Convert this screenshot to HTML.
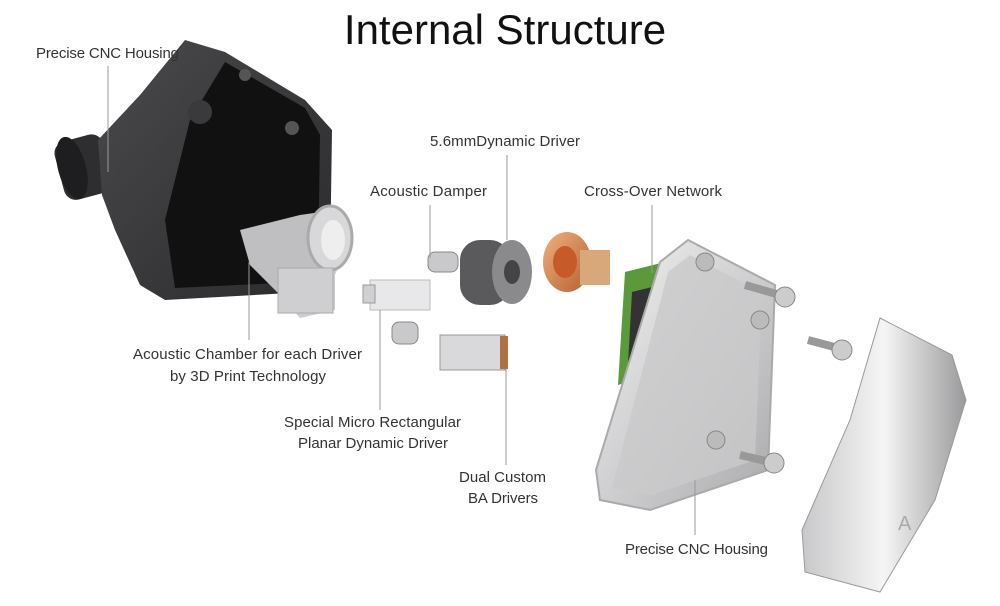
<!DOCTYPE html>
<html><head><meta charset="utf-8"><style>
html,body{margin:0;padding:0;background:#fff;}
svg{display:block;}
text{font-family:"Liberation Sans",sans-serif;fill:#333;}
</style></head><body>
<svg width="1000" height="606" viewBox="0 0 1000 606" xmlns="http://www.w3.org/2000/svg">
<defs>
<linearGradient id="dk" x1="0" y1="0" x2="1" y2="1"><stop offset="0" stop-color="#4a4a4c"/><stop offset="1" stop-color="#2a2a2c"/></linearGradient>
<linearGradient id="mt" x1="0" y1="0" x2="1" y2="1"><stop offset="0" stop-color="#f2f2f2"/><stop offset="0.5" stop-color="#cfcfd1"/><stop offset="1" stop-color="#a9a9ab"/></linearGradient>
<linearGradient id="sh" x1="0" y1="0" x2="1" y2="0"><stop offset="0" stop-color="#c8c8ca"/><stop offset="0.5" stop-color="#f5f5f5"/><stop offset="1" stop-color="#9a9a9c"/></linearGradient>
<linearGradient id="cu" x1="0" y1="0" x2="1" y2="1"><stop offset="0" stop-color="#f0b080"/><stop offset="1" stop-color="#b5602e"/></linearGradient>
</defs>
<text x="505" y="44" font-size="42" text-anchor="middle" style="fill:#111">Internal Structure</text>

<!-- dark housing -->
<rect x="58" y="138" width="50" height="60" rx="12" fill="#2e2e30" transform="rotate(-15 80 165)"/>
<ellipse cx="72" cy="168" rx="14" ry="32" fill="#1e1e20" transform="rotate(-15 72 168)"/>
<path d="M185,40 L225,52 L305,100 L332,130 L330,265 L308,292 L165,300 L140,285 L115,230 L102,195 L98,140 L140,95 Z" fill="url(#dk)"/>
<path d="M225,62 L305,108 L320,135 L318,262 L300,282 L175,288 L165,220 L190,120 Z" fill="#111"/>
<circle cx="200" cy="112" r="12" fill="#3a3a3c"/>
<circle cx="292" cy="128" r="7" fill="#555"/>
<circle cx="245" cy="75" r="6" fill="#555"/>
<!-- acoustic chamber -->
<path d="M240,230 L300,215 L335,210 L345,250 L335,275 L335,310 L300,318 L280,295 L250,265 Z" fill="#c9c9cb" opacity="0.95"/>
<ellipse cx="330" cy="238" rx="22" ry="32" fill="#d8d8da" stroke="#aaa" stroke-width="3"/>
<ellipse cx="333" cy="240" rx="12" ry="20" fill="#eee"/>
<rect x="278" y="268" width="55" height="45" fill="#cfcfd1" stroke="#aaa"/>

<!-- small parts -->
<rect x="370" y="280" width="60" height="30" fill="#e8e8ea" stroke="#bbb"/>
<rect x="363" y="285" width="12" height="18" fill="#d0d0d2" stroke="#999"/>
<rect x="428" y="252" width="30" height="20" rx="7" fill="#c9c9cb" stroke="#888"/>
<rect x="392" y="322" width="26" height="22" rx="7" fill="#c9c9cb" stroke="#888"/>
<rect x="440" y="335" width="65" height="35" fill="#d9d9db" stroke="#999"/>
<rect x="500" y="336" width="8" height="33" fill="#b07040"/>
<!-- dynamic driver -->
<rect x="460" y="240" width="50" height="65" rx="20" fill="#5a5a5c"/>
<ellipse cx="512" cy="272" rx="20" ry="32" fill="#8a8a8c"/>
<ellipse cx="512" cy="272" rx="8" ry="12" fill="#444"/>
<!-- copper -->
<ellipse cx="567" cy="262" rx="24" ry="30" fill="url(#cu)"/>
<ellipse cx="565" cy="262" rx="12" ry="16" fill="#c65a28"/>
<rect x="580" y="250" width="30" height="35" fill="#d9a87a"/>
<!-- PCB -->
<path d="M625,272 L665,262 L660,372 L618,385 Z" fill="#5b9a3a"/>
<path d="M632,292 L652,287 L650,358 L628,364 Z" fill="#333"/>

<!-- metal plate -->
<path d="M688,240 L775,285 L768,470 L650,510 L600,500 L596,470 L660,262 Z" fill="url(#mt)" stroke="#aaa" stroke-width="2"/>
<path d="M690,255 L762,293 L755,460 L652,495 L612,488 L668,272 Z" fill="#c9c9cb" opacity="0.8"/>
<circle cx="705" cy="262" r="9" fill="#bbb" stroke="#888"/>
<circle cx="760" cy="320" r="9" fill="#bbb" stroke="#888"/>
<circle cx="716" cy="440" r="9" fill="#bbb" stroke="#888"/>
<!-- screws -->
<path d="M745,285 L780,295" stroke="#999" stroke-width="8"/><circle cx="785" cy="297" r="10" fill="#ccc" stroke="#888"/>
<path d="M808,340 L838,348" stroke="#999" stroke-width="8"/><circle cx="842" cy="350" r="10" fill="#ccc" stroke="#888"/>
<path d="M740,455 L770,462" stroke="#999" stroke-width="8"/><circle cx="774" cy="463" r="10" fill="#ccc" stroke="#888"/>
<!-- shell -->
<path d="M880,318 L952,355 L966,400 L935,500 L880,592 L805,572 L802,530 L850,420 Z" fill="url(#sh)" stroke="#999"/>
<text x="898" y="530" font-size="20" style="fill:#aaa">A</text>

<!-- leader lines -->
<g stroke="#999" stroke-width="1">
<line x1="108" y1="66" x2="108" y2="172"/>
<line x1="249" y1="262" x2="249" y2="340"/>
<line x1="380" y1="310" x2="380" y2="410"/>
<line x1="506" y1="368" x2="506" y2="465"/>
<line x1="507" y1="155" x2="507" y2="240"/>
<line x1="430" y1="205" x2="430" y2="258"/>
<line x1="652" y1="205" x2="652" y2="273"/>
<line x1="695" y1="480" x2="695" y2="535"/>
</g>

<g font-size="15">
<text x="36" y="58" textLength="143">Precise CNC Housing</text>
<text x="430" y="146" textLength="150">5.6mmDynamic Driver</text>
<text x="370" y="196" textLength="117">Acoustic Damper</text>
<text x="584" y="196" textLength="138">Cross-Over Network</text>
<text x="133" y="359" textLength="229">Acoustic Chamber for each Driver</text>
<text x="170" y="381" textLength="156">by 3D Print Technology</text>
<text x="284" y="427" textLength="177">Special Micro Rectangular</text>
<text x="298" y="448" textLength="150">Planar Dynamic Driver</text>
<text x="459" y="482" textLength="87">Dual Custom</text>
<text x="468" y="503" textLength="70">BA Drivers</text>
<text x="625" y="554" textLength="143">Precise CNC Housing</text>
</g>
</svg>
</body></html>
